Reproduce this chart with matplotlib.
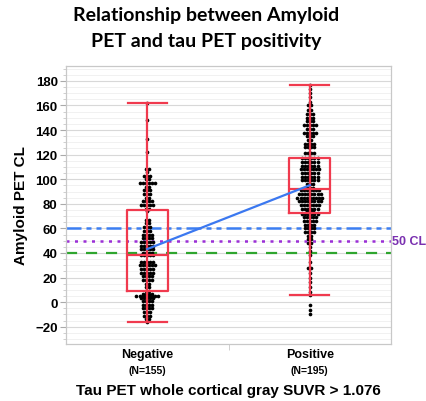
import numpy as np
import matplotlib
matplotlib.use("Agg")
import matplotlib.pyplot as plt
from matplotlib import cbook
from matplotlib.ticker import MultipleLocator

categories = ["Negative", "Positive"]
counts_label = ["(N=155)", "(N=195)"]

# (value, count) pairs
neg_rows = [(162, 1), (148, 1), (133, 1), (122, 1),
            (108, 2), (106, 1), (103, 3), (100, 2), (97, 6), (94, 2), (91, 3),
            (88, 3), (85, 2), (82, 4), (79, 5), (76, 2),
            (74, 1), (67, 2), (64, 2), (61, 3), (58, 3), (55, 4), (52, 4),
            (49, 5), (46, 5), (43, 5), (40, 4),
            (38, 5), (33, 5), (30, 6), (27, 5), (24, 5), (21, 4), (18, 4),
            (15, 2), (12, 2),
            (9, 2), (7, 4), (5, 8), (3, 5), (1, 4), (-2, 4), (-5, 4), (-8, 3),
            (-11, 3), (-14, 2), (-16, 1)]
pos_rows = [(177, 1), (173, 1), (170, 1), (167, 1), (163, 1), (160, 2), (156, 2),
            (153, 3), (150, 3), (147, 3), (144, 5), (141, 3), (138, 5), (135, 3),
            (132, 2), (129, 4), (126, 4), (121, 4),
            (117, 6), (114, 6), (111, 6), (108, 7), (105, 6), (102, 6), (99, 6),
            (96, 3), (93, 3),
            (91, 7), (88, 8), (85, 9), (82, 8), (79, 7), (76, 6), (74, 3),
            (72, 6), (69, 5), (66, 5), (63, 4), (60, 4), (57, 4), (54, 2), (51, 2),
            (48, 2), (45, 1), (42, 1), (38, 1), (33, 1), (28, 2), (24, 1), (20, 1),
            (16, 1), (12, 1), (8, 1), (6, 1), (-2, 1), (-6, 1), (-10, 1)]

thresholds = [60, 50, 40]

neg = np.repeat([v for v, c in neg_rows], [c for v, c in neg_rows]).astype(float)
pos = np.repeat([v for v, c in pos_rows], [c for v, c in pos_rows]).astype(float)
groups = [neg, pos]

fig = plt.figure(figsize=(4.26, 4.02), dpi=100)
ax = fig.add_axes([0.155, 0.142, 0.763, 0.691])

red = "#F03A4E"
dx = 0.019
for i, rows in enumerate([neg_rows, pos_rows]):
    xs, ys = [], []
    for v, c in rows:
        for k in range(c):
            xs.append(i + (k - (c - 1) / 2) * dx)
            ys.append(v)
    ax.scatter(xs, ys, s=7, color="black", zorder=3, linewidths=0)

stats = cbook.boxplot_stats(groups, whis=1.5)
ax.bxp(stats, positions=[0, 1], widths=0.25, showfliers=False, zorder=4,
       boxprops=dict(color=red, linewidth=1.6),
       medianprops=dict(color=red, linewidth=1.6),
       whiskerprops=dict(color=red, linewidth=1.6),
       capprops=dict(color=red, linewidth=1.6), capwidths=0.24)
for i, st in enumerate(stats):
    ax.vlines(i, st["q1"], st["q3"], color=red, linewidth=1.6, zorder=4)

means = [g.mean() for g in groups]
ax.plot([0, 1], means, color="#3B78F0", linewidth=1.6, zorder=5)

ax.axhline(thresholds[0], color="#3C7EF2", linewidth=1.8, dashes=(6, 2, 2, 2, 2, 2), zorder=2)
ax.axhline(thresholds[1], color="#9B2FD6", linewidth=1.8, dashes=(1.2, 2.2), zorder=2)
ax.axhline(thresholds[2], color="#2EA52E", linewidth=1.6, dashes=(5, 4), zorder=2)
ax.text(1.003, thresholds[1], "50 CL", transform=ax.get_yaxis_transform(),
        color="#7A30B0", fontsize=9, fontweight="bold", va="center", ha="left",
        family="Liberation Sans")

ax.set_xlim(-0.5, 1.5)
ax.set_ylim(-34, 192)
ax.yaxis.set_major_locator(MultipleLocator(20))
ax.yaxis.set_minor_locator(MultipleLocator(5))
ax.grid(which="major", axis="y", color="#D8D8D8", linewidth=0.8, zorder=0)
ax.grid(which="minor", axis="y", color="#EFEFEF", linewidth=0.6, zorder=0)
ax.set_axisbelow(True)
for s in ax.spines.values():
    s.set_color("#C8C8C8")
    s.set_linewidth(0.9)

ax.set_xticks([0, 1])
ax.set_xticklabels([""] * 2)
ax.set_xticks([0.5], minor=True)
ax.tick_params(axis="x", which="major", length=0)
ax.tick_params(axis="x", which="minor", length=4, color="#C8C8C8")
ax.tick_params(axis="y", which="major", length=4, color="#AAAAAA", labelsize=9.5, pad=2)
ax.tick_params(axis="y", which="minor", length=2, color="#C8C8C8")
for lab in ax.get_yticklabels():
    lab.set_fontweight("bold")
    lab.set_family("Liberation Sans")

for i, (c, n) in enumerate(zip(categories, counts_label)):
    ax.text(i, -0.014, c, transform=ax.get_xaxis_transform(), ha="center", va="top",
            fontsize=9, fontweight="bold", family="Liberation Sans")
    ax.text(i, -0.076, n, transform=ax.get_xaxis_transform(), ha="center", va="top",
            fontsize=7.5, fontweight="bold", family="Liberation Sans")

ax.set_ylabel("Amyloid PET CL", fontsize=11, fontweight="bold", family="Liberation Sans",
              labelpad=5)
ax.text(0.5, -0.14, "Tau PET whole cortical gray SUVR > 1.076", transform=ax.transAxes,
        ha="center", va="top", fontsize=11, fontweight="bold", family="Liberation Sans")

fig.text(0.484, 0.982, "Relationship between Amyloid\nPET and tau PET positivity",
         ha="center", va="top", fontsize=14, fontweight="bold", family="Lato",
         linespacing=1.6)

fig.savefig("out.png", dpi=100, facecolor="white")
